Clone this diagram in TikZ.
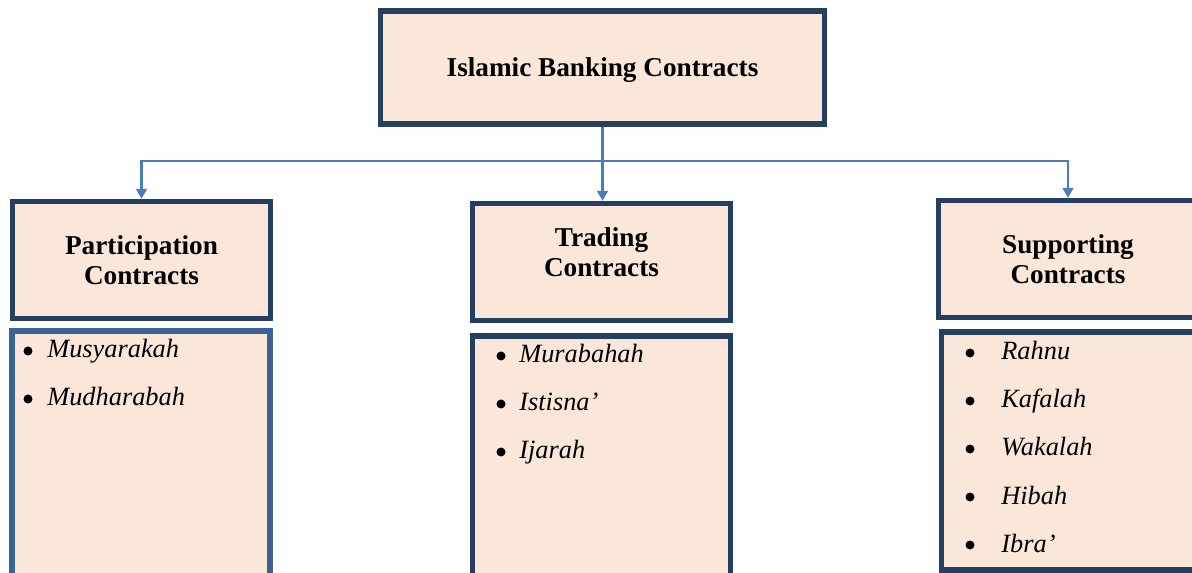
\documentclass[tikz,border=0pt]{standalone}
\usepackage{fontspec}
\setmainfont{Liberation Serif}
\usepackage{tikz}
\usetikzlibrary{arrows.meta,positioning}
\definecolor{boxfill}{HTML}{FBE7D9}
\definecolor{boxline}{HTML}{243F60}
\definecolor{listline}{HTML}{3A6496}
\definecolor{linkcol}{HTML}{4A7EBB}
\tikzset{
  box/.style={draw=boxline, fill=boxfill, line width=3.1pt, rectangle, inner sep=0pt},
  headbox/.style={box, minimum width=5.16cm, minimum height=2.34cm, align=center,
    font=\fontsize{15.5pt}{17pt}\selectfont\bfseries},
  listbox/.style={box, minimum width=5.16cm, anchor=north},
  item/.style={anchor=base west, inner sep=0pt, font=\fontsize{15pt}{17pt}\selectfont\itshape},
  link/.style={draw=linkcol, line width=1.2pt},
  tolink/.style={link, -{Triangle[width=6.2pt,length=5.7pt]}}
}
\begin{document}
\begin{tikzpicture}[x=0.02cm,y=-0.02cm]
\useasboundingbox (0,0) rectangle (1192,573);
\clip (0,0) rectangle (1192,573);
\node[box, minimum width=8.88cm, minimum height=2.26cm, text height=14.2pt, text depth=3.4pt,
  font=\fontsize{15.5pt}{17pt}\selectfont\bfseries] (top) at (602.5,67.5) {Islamic Banking Contracts};
\node[headbox] (part) at (141.5,260) {Participation\\Contracts};
\node[headbox, text depth=11pt] (trade) at (601.5,262) {Trading\\Contracts};
\node[headbox, minimum width=5.18cm] (supp) at (1068,259) {Supporting\\Contracts};
\node[listbox, draw=listline, minimum height=5.6cm] (partlist) at (141,328.5) {};
\node[listbox, minimum height=5.6cm] (tradelist) at (601.5,333.5) {};
\node[listbox, minimum width=5.13cm, minimum height=4.76cm] (supplist) at (1069.75,329.5) {};
\coordinate (bus) at (603,161);
\draw[link] (top.south) -- (top.south |- bus);
\draw[tolink] (top.south |- bus) -| (part.north);
\draw[tolink] (top.south |- bus) -| (supp.north);
\draw[tolink] (top.south |- bus) -- (top.south |- trade.north);
\foreach \name/\txt [count=\i] in {musy/Musyarakah, mudh/Mudharabah}{
  \node[item] (\name) at (47,{358+48*(\i-1)}) {\txt};
  \fill (28,{351+48*(\i-1)}) circle[radius=0.09cm];
}
\foreach \name/\txt [count=\i] in {mura/Murabahah, isti/Istisna’, ijar/Ijarah}{
  \node[item] (\name) at (519,{363+48*(\i-1)}) {\txt};
  \fill (501,{356+48*(\i-1)}) circle[radius=0.09cm];
}
\foreach \name/\txt [count=\i] in {rahn/Rahnu, kafa/Kafalah, waka/Wakalah, hiba/Hibah, ibra/Ibra’}{
  \node[item] (\name) at (1001,{360+48*(\i-1)}) {\txt};
  \fill (970,{353+48*(\i-1)}) circle[radius=0.09cm];
}
\end{tikzpicture}
\end{document}
